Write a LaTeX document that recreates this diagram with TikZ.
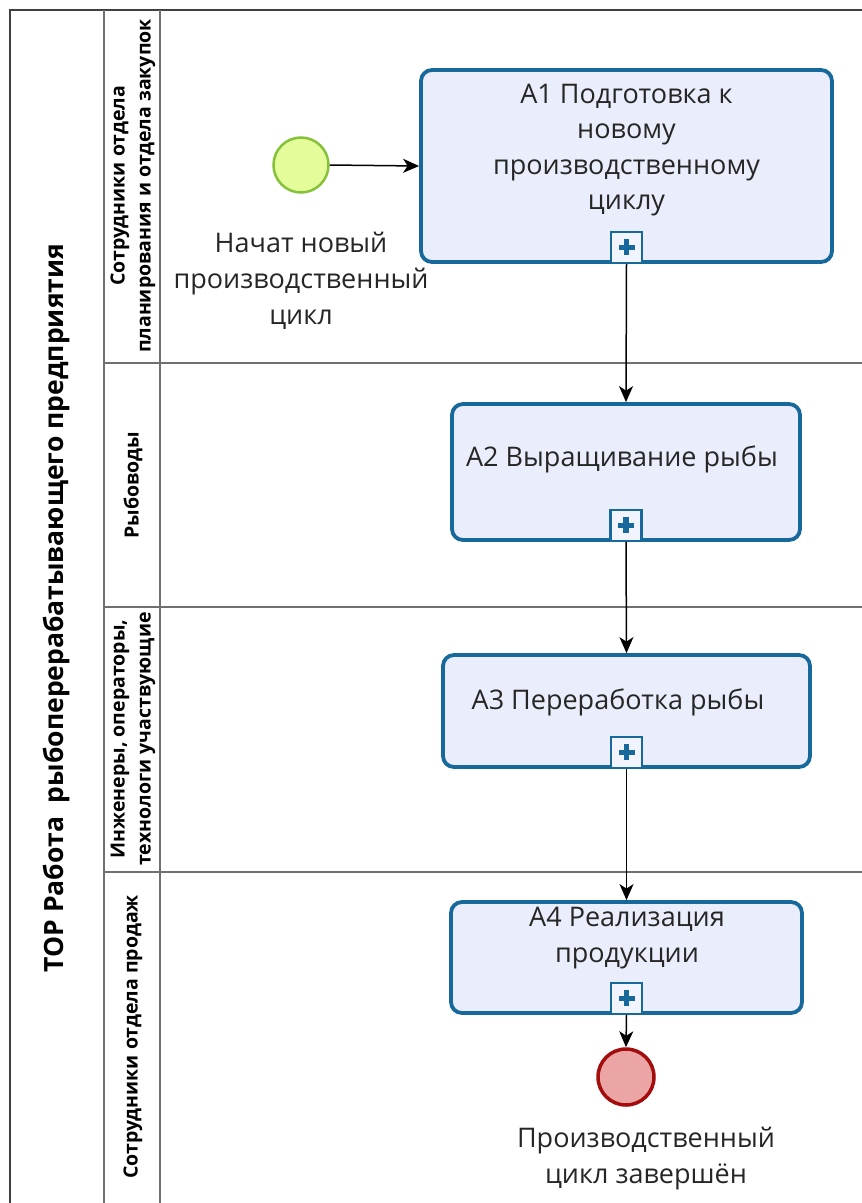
\documentclass[tikz,border=0pt]{standalone}
\usepackage{fontspec}
\setmainfont{Open Sans}
\usetikzlibrary{arrows.meta,positioning}
\definecolor{taskblue}{HTML}{16699A}
\definecolor{taskfill}{HTML}{EAEDFB}
\definecolor{startfill}{HTML}{E4FD9A}
\definecolor{startline}{HTML}{86C13A}
\definecolor{endfill}{HTML}{EBA5A5}
\definecolor{endline}{HTML}{A30D0D}
\definecolor{frame}{HTML}{707070}
\tikzset{
  task/.style={draw=taskblue,line width=3.8pt,fill=taskfill,rounded corners=11pt,inner sep=0pt},
  tasktext/.style={font=\fontsize{27}{35.5}\selectfont,align=center,inner sep=0pt,text=black!85},
  marker/.style={draw=taskblue,line width=2.2pt,fill=taskfill!60!white,minimum size=31pt,inner sep=0pt,anchor=south},
  flow/.style={line width=1.5pt,-{Stealth[length=16pt,width=14pt,inset=4.5pt]}},
  lanelabel/.style={rotate=90,font=\bfseries\fontsize{19.5}{26}\selectfont,align=center,inner sep=0pt},
  evtext/.style={font=\fontsize{27}{36}\selectfont,align=center,inner sep=0pt,text=black!85},
  framel/.style={draw=frame,line width=1.8pt}
}
\newcommand{\plusmark}[1]{%
  \fill[taskblue] ([xshift=-8pt,yshift=-2.6pt]#1.center) rectangle ([xshift=8pt,yshift=2.6pt]#1.center);
  \fill[taskblue] ([xshift=-2.6pt,yshift=-8pt]#1.center) rectangle ([xshift=2.6pt,yshift=8pt]#1.center);}
\begin{document}
\begin{tikzpicture}[x=1pt,y=-1pt]
\useasboundingbox (0,0) rectangle (862,1203);
% frame
\draw[framel,draw=black!75] (862,10) -- (10,10) -- (10,1203);
\draw[framel] (104,10) -- (104,1203);
\draw[framel] (160,10) -- (160,1203);
\draw[framel] (104,363) -- (862,363);
\draw[framel] (104,607) -- (862,607);
\draw[framel] (104,872) -- (862,872);
% title and lane labels
\node[rotate=90,font=\fontsize{26.5}{30}\selectfont\bfseries,inner sep=0pt] (title) at (57,608) {ТОР Работа\ \ рыбоперерабатывающего предприятия};
\node[lanelabel] (l1) at (133,186) {Сотрудники отдела\\планирования и отдела закупок};
\node[lanelabel] (l2) at (133,485) {Рыбоводы};
\node[lanelabel] (l3) at (133,739) {Инженеры, операторы,\\технологи участвующие};
\node[lanelabel] (l4) at (133,1037) {Сотрудники отдела продаж};
% tasks
\node[task,minimum width=411pt,minimum height=192pt] (A1) at (626.5,166) {};
\node[tasktext] (t1) at (626.5,150) {A1 Подготовка к\\новому\\производственному\\циклу};
\node[marker] (m1) at (A1.south) {};
\plusmark{m1}
\node[task,minimum width=348pt,minimum height=136pt] (A2) at (626,472) {};
\node[tasktext] (t2) at (622,459) {A2 Выращивание рыбы};
\node[marker] (m2) at (A2.south) {};
\plusmark{m2}
\node[task,minimum width=367pt,minimum height=112pt] (A3) at (626.5,711) {};
\node[tasktext] (t3) at (618,702) {A3 Переработка рыбы};
\node[marker] (m3) at (A3.south) {};
\plusmark{m3}
\node[task,minimum width=351pt,minimum height=111pt] (A4) at (626.5,957.5) {};
\node[tasktext] (t4) at (627,938) {A4 Реализация\\продукции};
\node[marker] (m4) at (A4.south) {};
\plusmark{m4}
% events
\node[circle,draw=startline,line width=2.5pt,fill=startfill,minimum size=55pt,inner sep=0pt] (start) at (301,165) {};
\node[evtext] (st) at (301,281) {Начат новый\\производственный\\цикл};
\node[circle,draw=endline,line width=3.5pt,fill=endfill,minimum size=56pt,inner sep=0pt] (end) at (626,1077) {};
\node[evtext] (et) at (646,1159) {Производственный\\цикл завершён};
% flows
\draw[flow] (start.east) -- (A1.west);
\draw[flow] (A1.south) -- (A2.north);
\draw[flow] (A2.south) -- (A3.north);
\draw[flow] (A3.south) -- (A4.north);
\draw[flow] (A4.south) -- (end.north);
\end{tikzpicture}
\end{document}
